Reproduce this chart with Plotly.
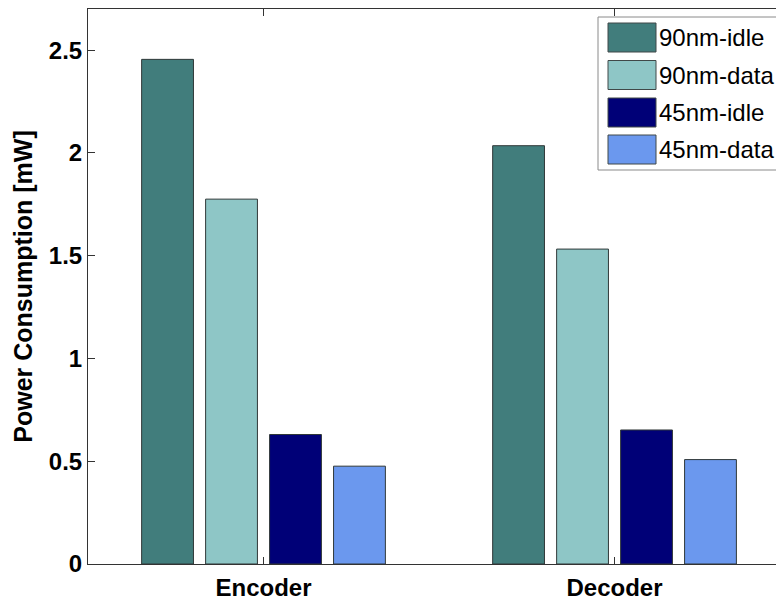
import plotly.graph_objects as go

categories = ["Encoder", "Decoder"]
series_names = ["90nm-idle", "90nm-data", "45nm-idle", "45nm-data"]
idle_90 = [2.455, 2.035]
data_90 = [1.775, 1.532]
idle_45 = [0.630, 0.652]
data_45 = [0.476, 0.508]
series_values = [idle_90, data_90, idle_45, data_45]
colors = ["#417D7C", "#8EC6C6", "#000077", "#6B98EE"]
y_tickvals = [0, 0.5, 1, 1.5, 2, 2.5]
y_ticktext = ["0", "0.5", "1", "1.5", "2", "2.5"]

W, H = 776, 599
ML, MR, MT, MB = 88, 0, 9, 35
PW, PH = W - ML - MR, H - MT - MB


def px(x):  # page pixel -> paper
    return (x - ML) / PW


def py(y):
    return (H - MB - y) / PH


fig = go.Figure()
for name, vals, col in zip(series_names, series_values, colors):
    fig.add_trace(go.Bar(
        x=categories, y=vals, name=name, marker_color=col,
        marker_line=dict(color="#303838", width=1), showlegend=False,
    ))

# manual legend (MATLAB style, large swatches)
shapes = [dict(type="rect", xref="paper", yref="paper",
               x0=px(598), x1=px(800), y0=py(170), y1=py(17),
               line=dict(color="#8a8a8a", width=1), fillcolor="white")]
annotations = []
tops = [23, 60.5, 98, 135]
for name, col, t in zip(series_names, colors, tops):
    shapes.append(dict(type="rect", xref="paper", yref="paper",
                       x0=px(608), x1=px(656), y0=py(t + 29), y1=py(t),
                       line=dict(color="#404848", width=1), fillcolor=col))
    annotations.append(dict(xref="paper", yref="paper", x=px(657), y=py(t + 14.5),
                            xanchor="left", yanchor="middle", text=name, showarrow=False,
                            font=dict(family="Liberation Sans, Arial", size=24, color="black")))

axis_line = "#333333"
fig.update_layout(
    width=W, height=H,
    margin=dict(l=ML, r=MR, t=MT, b=MB, pad=0, autoexpand=False),
    paper_bgcolor="white", plot_bgcolor="white",
    barmode="group", bargap=0.271, bargroupgap=0.19,
    font=dict(family="Liberation Sans, Arial", color="black"),
    shapes=shapes, annotations=annotations,
    xaxis=dict(
        type="category", range=[-0.5, 1.46], automargin=False,
        showline=True, linecolor=axis_line, linewidth=1, mirror="ticks",
        ticks="inside", ticklen=7, tickcolor=axis_line, tickwidth=1,
        showgrid=False, zeroline=False, ticklabelstandoff=2,
        tickfont=dict(size=24, family="Liberation Sans, Arial", color="black", weight="bold"),
    ),
    yaxis=dict(
        range=[0, 2.7], tickvals=y_tickvals, ticktext=y_ticktext, automargin=False,
        showline=True, linecolor=axis_line, linewidth=1, mirror=False,
        ticks="inside", ticklen=7, tickcolor=axis_line, tickwidth=1,
        showgrid=False, zeroline=False,
        tickfont=dict(size=24, family="Liberation Sans, Arial", color="black", weight="bold"),
        title=dict(text="Power Consumption [mW]", standoff=9,
                   font=dict(size=25, family="Liberation Sans, Arial", color="black", weight="bold")),
    ),
)

fig.write_html(
    "out.html",
    config={"displayModeBar": False},
    post_script="document.body.style.margin='0';document.body.style.overflow='hidden';",
)
